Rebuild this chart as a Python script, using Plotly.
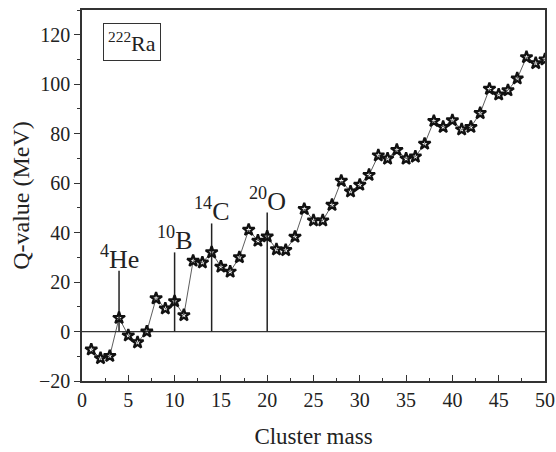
import plotly.graph_objects as go

cluster_mass = list(range(1, 51))
q_value = [-7.3, -10.8, -9.9, 5.5, -1.6, -4.4, 0.0, 13.4, 9.3, 12.2,
           6.6, 28.6, 27.9, 32.0, 26.2, 24.2, 30.0, 41.1, 36.7, 38.4,
           33.2, 32.9, 38.3, 49.5, 44.9, 44.9, 51.2, 60.9, 56.6, 59.3,
           63.3, 71.2, 69.9, 73.4, 69.9, 70.7, 75.9, 85.1, 82.7, 85.4,
           81.7, 82.7, 88.3, 98.1, 95.8, 97.5, 102.3, 110.9, 108.5, 110.0]

marker_x = [4, 10, 14, 20]
marker_top = [24.6, 32.0, 43.7, 48.1]
marker_labels = ["<sup>4</sup>He", "<sup>10</sup>B", "<sup>14</sup>C", "<sup>20</sup>O"]

FONT = "Liberation Serif, Times New Roman, serif"

fig = go.Figure()

fig.add_trace(go.Scatter(x=[0, 50], y=[0, 0], mode="lines",
                         line=dict(color="#333", width=1.2), hoverinfo="skip", showlegend=False))

for mx, top in zip(marker_x, marker_top):
    fig.add_trace(go.Scatter(x=[mx, mx], y=[0, top], mode="lines",
                             line=dict(color="#222", width=1.5), hoverinfo="skip", showlegend=False))

fig.add_trace(go.Scatter(x=cluster_mass, y=q_value, mode="lines+markers",
                         line=dict(color="#333", width=0.8),
                         marker=dict(symbol="star-open", size=9, color="#111",
                                     line=dict(width=2.2, color="#111")),
                         showlegend=False))

for mx, top, lab in zip(marker_x, marker_top, marker_labels):
    fig.add_annotation(x=mx, y=top, xref="x", yref="y", text=lab, showarrow=False,
                       yanchor="bottom", xanchor="center", yshift=-5,
                       font=dict(family=FONT, size=26, color="#222"))

fig.add_annotation(x=0.045, y=0.966, xref="paper", yref="paper",
                   text="<sup>222</sup>Ra", showarrow=False, xanchor="left", yanchor="top",
                   font=dict(family=FONT, size=22, color="#222"),
                   bordercolor="#333", borderwidth=1, borderpad=4, bgcolor="white")

axis_common = dict(showline=True, linecolor="#333", linewidth=1.5, mirror=True,
                   showgrid=False, zeroline=False, ticklen=6, tickwidth=1.2, automargin=False,
                   tickcolor="#333", tickfont=dict(family=FONT, size=20, color="#222"))

fig.update_xaxes(range=[0, 50], dtick=5, ticks="inside",
                 minor=dict(dtick=2.5, ticks="inside", ticklen=3, tickcolor="#333"),
                 title=dict(text="Cluster mass", font=dict(family=FONT, size=23, color="#222"), standoff=18),
                 **axis_common)
fig.update_yaxes(range=[-20, 130], tickvals=[-20, 0, 20, 40, 60, 80, 100, 120], ticks="outside",
                 minor=dict(dtick=10, ticks="outside", ticklen=3, tickcolor="#333"),
                 title=dict(text="Q-value (MeV)", font=dict(family=FONT, size=24, color="#222"), standoff=3),
                 **axis_common)

fig.update_layout(width=556, height=452, margin=dict(l=82, r=11, t=10, b=71),
                  paper_bgcolor="white", plot_bgcolor="white")

fig.write_html("out.html")
